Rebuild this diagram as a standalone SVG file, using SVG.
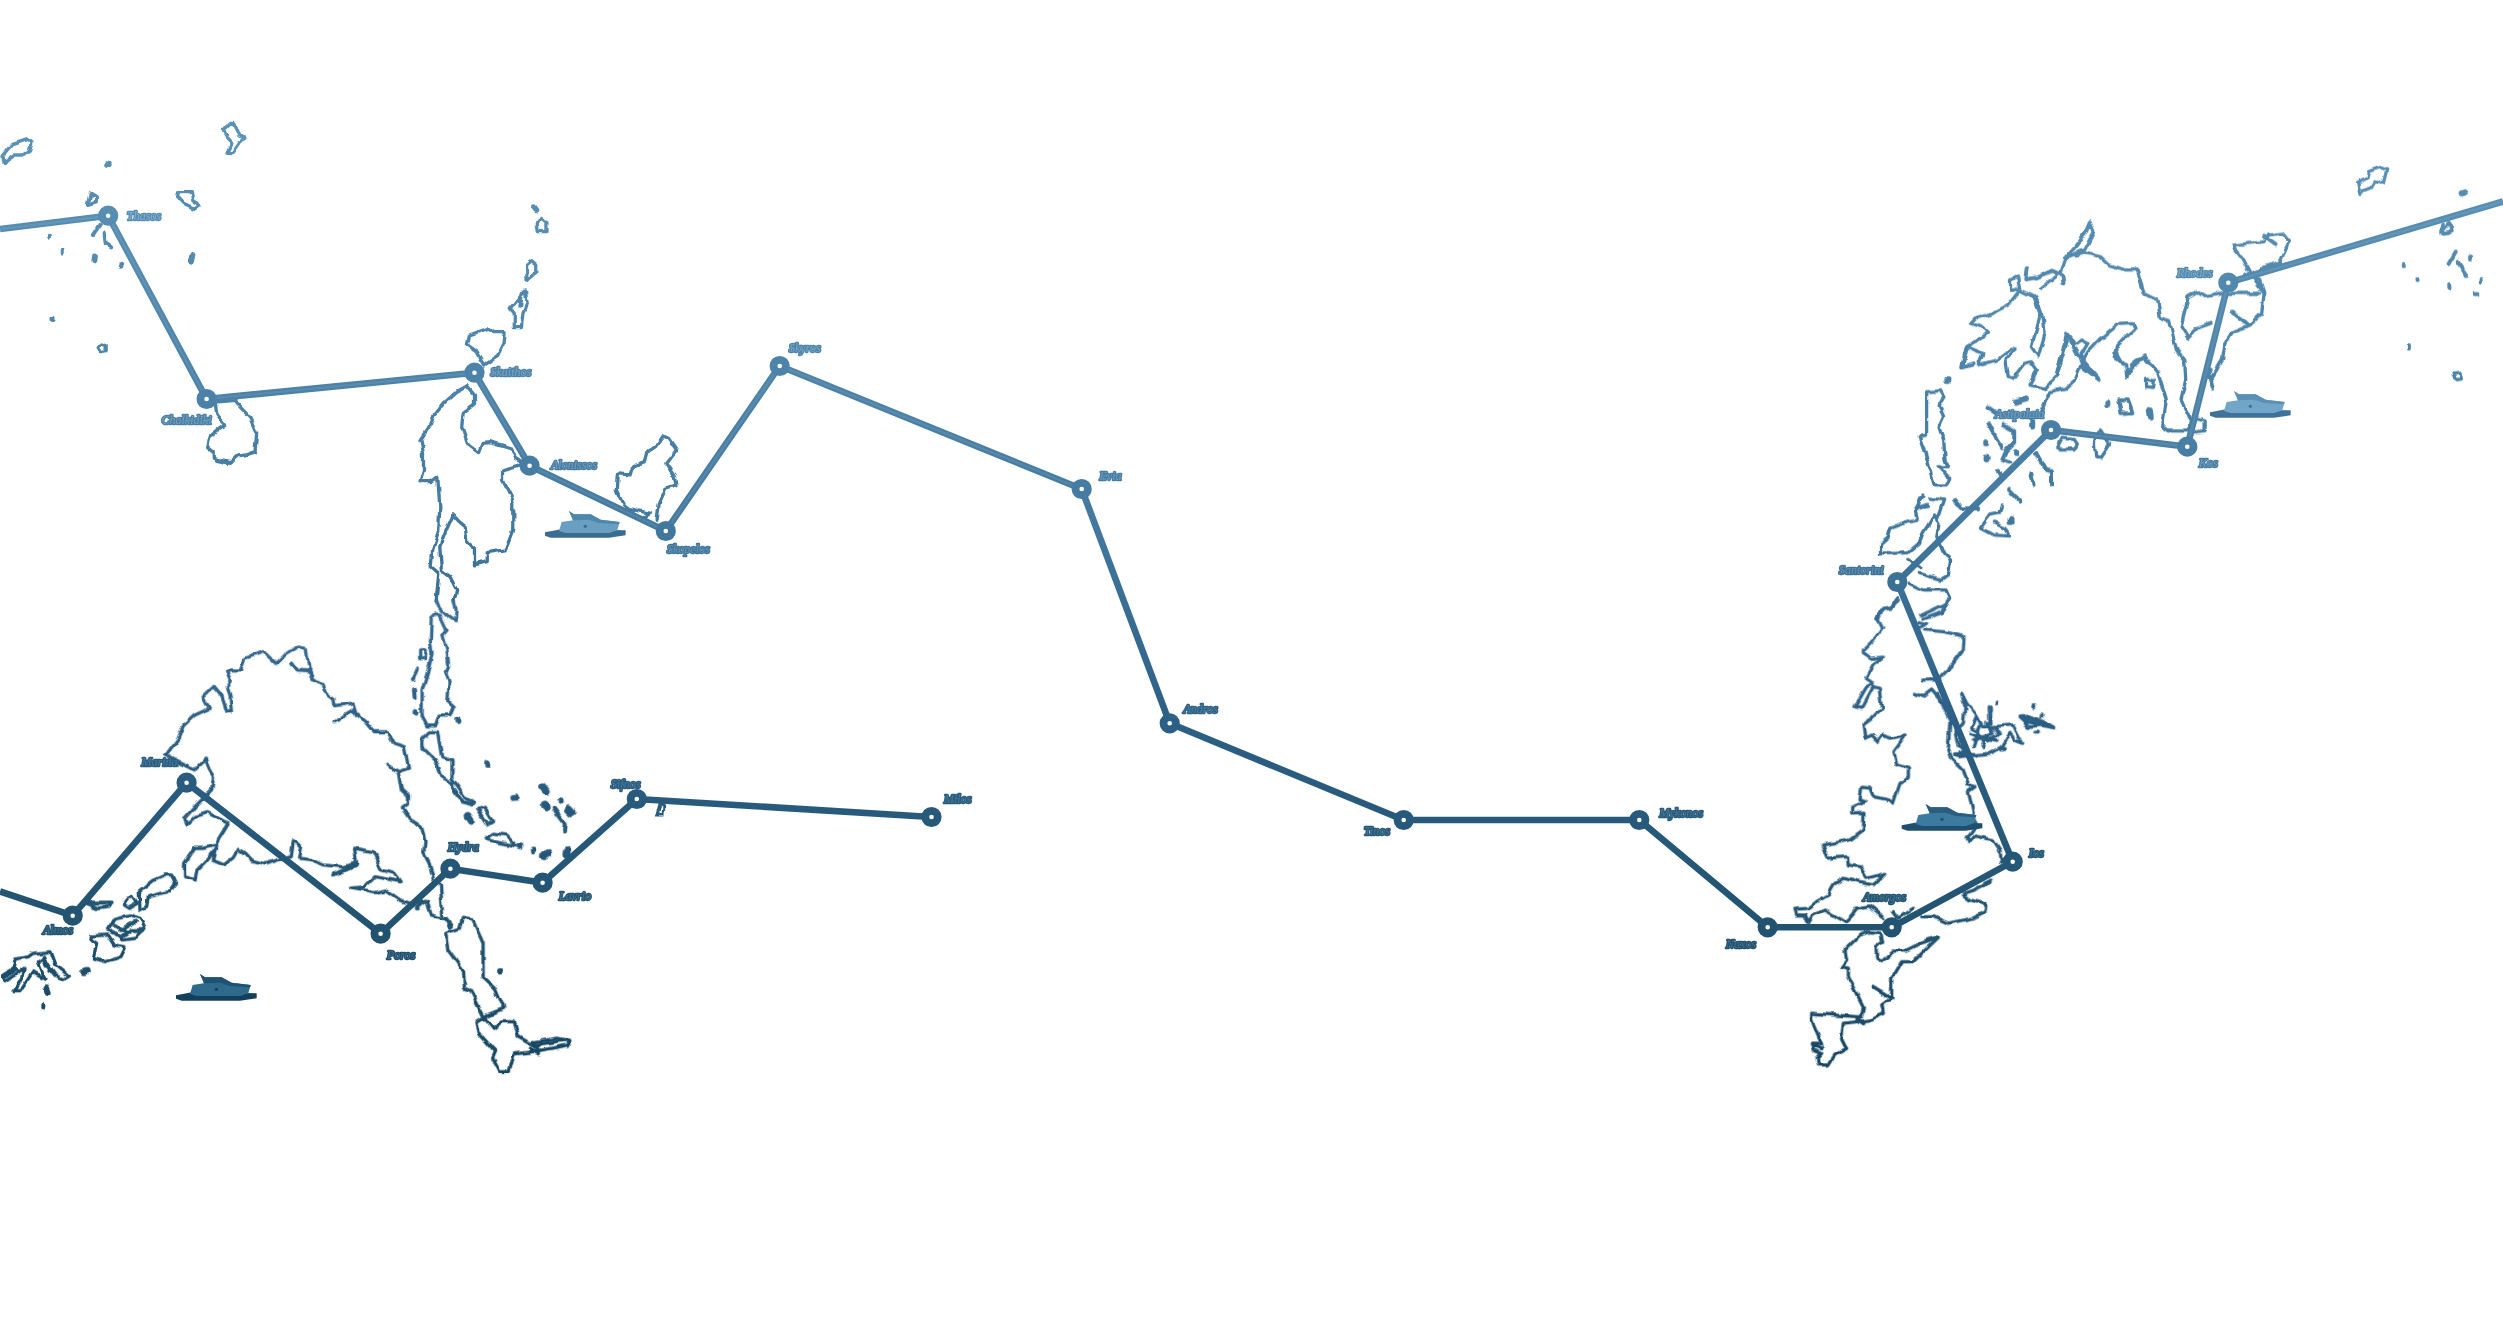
<svg xmlns="http://www.w3.org/2000/svg" xmlns:xlink="http://www.w3.org/1999/xlink" width="2503" height="1338" viewBox="0 0 2503 1338">
<style>
.coast path{fill:none;stroke-width:3.3;vector-effect:non-scaling-stroke;stroke-linejoin:round;stroke-linecap:round}
.coast path.t{stroke-width:4}
.coast path.d{stroke-width:6}
.coast path.b{stroke-width:8}
.coast path.s{stroke-width:4}
.route{fill:none;stroke:url(#g);stroke-width:6.6;stroke-linejoin:round}
.glow{fill:none;stroke:#fff;stroke-opacity:.08;stroke-width:2.4}
.node circle{fill:#fff;stroke:url(#g);stroke-width:7.8}
.node text{font:italic 12px "Liberation Serif",serif;fill:url(#gt);stroke:url(#g);stroke-width:2.6;paint-order:stroke;stroke-linejoin:round}
.bs{fill:var(--s)}.bh{fill:var(--h)}.bu{fill:var(--u)}
</style>
<defs>
<filter id="wob" filterUnits="userSpaceOnUse" x="0" y="0" width="2503" height="1338">
<feTurbulence type="fractalNoise" baseFrequency="0.08" numOctaves="2" seed="7"/>
<feDisplacementMap in="SourceGraphic" scale="5.5" xChannelSelector="R" yChannelSelector="G"/>
</filter>
<linearGradient id="g" gradientUnits="userSpaceOnUse" x1="0" x2="0" y1="150" y2="1060">
<stop offset="0" stop-color="#5a91b6"/><stop offset=".4" stop-color="#447aa0"/><stop offset=".63" stop-color="#2c5f85"/><stop offset=".85" stop-color="#225370"/><stop offset="1" stop-color="#174663"/>
</linearGradient>
<linearGradient id="gt" gradientUnits="userSpaceOnUse" x1="0" x2="0" y1="150" y2="1060">
<stop offset="0" stop-color="#8cb5d2"/><stop offset=".4" stop-color="#6b98b9"/><stop offset=".65" stop-color="#4b7898"/><stop offset="1" stop-color="#3c6a86"/>
</linearGradient>
<linearGradient id="gz1" href="#g" gradientUnits="userSpaceOnUse" x1="0" x2="0" y1="150" y2="2880"/>
<linearGradient id="gz2" href="#g" gradientUnits="userSpaceOnUse" x1="0" x2="0" y1="-1350" y2="1380"/>
<linearGradient id="gz4" href="#g" gradientUnits="userSpaceOnUse" x1="0" x2="0" y1="-150" y2="2580"/>
<linearGradient id="gz10" href="#g" gradientUnits="userSpaceOnUse" x1="0" x2="0" y1="-2100" y2="630"/>
<linearGradient id="gz12" href="#g" gradientUnits="userSpaceOnUse" x1="0" x2="0" y1="0" y2="2730"/>
<g id="boat">
<path class="bs" d="M528,436L580,426L770,430L770,445L720,452L545,452L528,446Z"/>
<path class="bh" d="M570,432L578,405L612,400L600,372L615,382L665,382L695,398L752,405L745,430L720,438L590,438Z"/>
<path class="bu" d="M600,372L615,382L665,382L695,398L752,405L750,412L690,408L660,398L612,400Z"/>
<circle class="bs" cx="649" cy="418" r="5"/>
</g>
</defs>

<g id="coasts" filter="url(#wob)">
<g id="coast-northwest" class="coast" stroke="url(#gz1)" transform="translate(0,100) scale(.5102,.3333)">
<path d="M8,192L6,165L25,130L55,115L63,125L58,150L45,165L30,165L15,180Z"/>
<path d="M450,70L438,90L445,108L455,125L445,157L455,158L470,125L482,115L468,108L458,70Z"/>
<path class="d" d="M213,190L210,198"/>
<path class="t" d="M178,275L172,315L188,308L188,285Z"/>
<path d="M350,275L375,275L378,300L385,305L390,315L380,325L360,310L348,290Z"/>
<path class="t" d="M198,372L182,408M205,400L207,430L218,442"/>
<path class="s" d="M96,404V413M123,449V458M103,653V663"/>
<path class="d" d="M186,470L185,478M238,494V497M379,462L376,482M1047,322L1051,330"/>
<path d="M200,732L190,742L198,758L210,755L210,738Z"/>
<path d="M1060,355L1053,372L1055,395L1072,395L1072,365Z"/>
<path d="M1042,482L1032,495L1033,540L1052,515L1052,495Z"/>
<path d="M1030,570L1018,590L1000,625L1008,640L1008,680L1022,680L1025,640L1033,610Z"/>
<path class="s" d="M1020,590L1018,620"/>
<path d="M950,692L920,708L916,735L935,755L950,795L975,770L988,730L990,695L968,695L960,686Z"/>
<path d="M915,858L895,875L870,910L852,945L845,975L825,1020L830,1060L830,1110L823,1145L845,1145L858,1132L862,1220L860,1290L848,1350L845,1400L860,1420L855,1500"/>
<path d="M888,1245L875,1290L862,1340L865,1410L882,1430L895,1470L890,1500"/>
<path d="M888,1245L900,1265L912,1280L915,1325L930,1345L930,1395L955,1385L955,1358L990,1350L1005,1290L1005,1200L985,1140L985,1110L1020,1095"/>
<path d="M915,858L930,885L930,915L908,940L905,980L918,1035L938,1058L945,1030L960,1028L1005,1048L1010,1075L1025,1090"/>
<path d="M1300,1008L1285,1040L1270,1055L1265,1085L1240,1100L1235,1125L1210,1122L1208,1170L1222,1215L1230,1225L1275,1240L1262,1252"/>
<path d="M1300,1008L1310,1015L1326,1050L1305,1090L1322,1130L1325,1155L1305,1165L1292,1210L1288,1258"/>
<path d="M422,910L425,945L440,975L410,1010L405,1040L420,1060L420,1075L450,1090L465,1068L480,1065L500,1055L503,1000L490,955L462,910"/>
<path class="t" d="M422,905L462,900M425,1080L448,1088"/>
</g>

<g id="coast-southwest" class="coast" stroke="url(#gz2)" transform="translate(0,600) scale(.41467,.3333)">
<path d="M1052,0L1060,25L1080,50L1098,65L1100,30L1095,0"/>
<path d="M1050,42L1040,55L1038,120L1042,160L1030,220L1018,270L1018,350L1030,378L1050,378L1060,345L1085,345L1093,320L1080,305L1083,245L1075,220L1082,200L1078,150L1068,105L1078,90L1060,42Z"/>
<path d="M1012,150L1028,148L1025,176L1012,176Z"/>
<path class="t" d="M1008,208L998,235M998,268L1000,292"/>
<path class="d" d="M1002,336V338M1103,360V363M1175,490V492M1238,594L1244,593M1352,601V603M1206,1113L1206,1115"/>
<path d="M1035,395L1015,420L1015,440L1055,490L1065,530L1090,550L1095,575L1105,595L1135,615L1142,605L1120,590L1105,560L1090,535L1090,480L1065,470L1055,395Z"/>
<path class="t" d="M1095,570L1115,605L1140,612"/>
<path class="b" d="M1308,560L1318,575M1314,614L1316,622M1372,628L1378,636M1128,648L1135,662M1312,768L1324,760M1367,754L1366,764"/>
<path class="d" d="M1255,739V741M1285,749V751"/>
<path class="t" d="M1335,625L1362,670L1360,695"/>
<path d="M1152,628L1168,622L1188,662L1175,672Z"/>
<path d="M1172,715L1190,700L1220,705L1245,738L1205,728L1175,720Z"/>
<path d="M400,465L430,415L442,378L470,345L505,325L490,290L515,260L535,290L547,335L558,335L555,290L548,260L558,240L548,210L580,210L590,175L615,165L635,155L665,190L685,165L720,138L738,142L745,205L755,235L780,255L785,275L805,295L808,320L852,312L860,345L880,365L900,395L935,395L950,430L975,440L985,505L960,515L935,493"/>
<path class="t" d="M702,190L715,212L750,215L755,235"/>
<path d="M808,365L850,330L865,345"/>
<path d="M960,515L968,570L985,590L985,610L970,625L990,660L1015,680L1025,720L1022,760L1035,790L1045,835"/>
<path d="M400,465L435,490L470,510L495,480L505,510L515,530L510,570L470,620L445,655L450,675L470,650L500,638L550,670L530,710L522,735L490,745L470,745L445,790L445,830L470,840L475,810L495,785L520,745L512,780L540,795L565,770L575,748L590,760L605,780L640,792L670,780L700,770L705,725L725,740L720,775L755,780L780,795L825,800L860,790L805,825"/>
<path d="M860,790L855,745L900,755L920,810L950,820L965,845L905,830L880,860L845,865L905,878L930,870L965,900L990,910L1030,905L1040,945L1075,958L1085,985"/>
<path class="t" d="M808,822L858,795M1005,925L1025,905M1075,955L1090,978"/>
<path d="M1062,850L1068,955"/>
<path d="M1075,1000L1080,1050L1118,1115L1120,1165L1135,1172L1165,1245L1190,1285L1210,1265L1240,1265L1250,1310L1285,1335L1370,1320L1372,1335L1285,1355L1240,1362L1228,1415L1205,1415L1188,1375L1195,1355L1155,1300L1150,1265L1175,1245L1215,1225L1195,1165L1165,1130L1165,1030L1140,960L1115,955L1108,985Z"/>
<path class="t" d="M1280,1345L1300,1360M1285,1325L1300,1350"/>
<path d="M1290,1325L1345,1315L1372,1322"/>
</g>

<g id="coast-almos" class="coast" stroke="url(#gz10)" transform="translate(0,850) scale(.3333)">
<path class="t" d="M250,158L335,158L328,170L292,175Z"/>
<path d="M498,75L515,75L527,100L510,125L480,130L445,140L440,170L420,180L418,125L460,92Z"/>
<path d="M400,140L412,160L385,175L370,165L385,145Z"/>
<path d="M325,240L345,205L390,195L420,205L435,235L405,265L370,270L345,250Z"/>
<path class="t" d="M360,240L405,215M365,262L395,240L430,240M345,225L380,250"/>
<path d="M275,258L325,255L345,285L375,290L360,320L320,335L280,325L290,280L272,268Z"/>
<path d="M8,375L40,355L45,328L85,320L100,310L150,305L165,345L205,378L190,388L165,375L140,340L130,325L115,335L135,385L100,365L60,425L42,425L65,385L72,355L45,375L15,392Z"/>
<path class="t" d="M15,378L45,362M130,320L140,345L165,378"/>
<path class="d" d="M253,366L260,363M137,412L143,426"/>
<path class="s" d="M130,462V473"/>
</g>

<g id="coast-northeast" class="coast" stroke="url(#gz4)" transform="translate(1780,200) scale(.46097,.3333)">
<path class="t" d="M672,68L662,100L640,140L620,172L660,150L680,95Z"/>
<path d="M620,175L610,215L565,265"/>
<path class="t" d="M535,205L532,238L560,232L590,212L612,225L615,250"/>
<path d="M500,240L515,228L520,265L500,272Z"/>
<path d="M640,165L665,160L695,170L715,195L750,210L775,210L790,280L820,300L825,355L845,365L860,450L878,480L880,540L870,600L890,660L888,690L840,690L830,680L838,600L820,520L795,480L790,465L762,495L752,530L750,495L725,470L730,440L750,410L770,385L765,368L735,370L695,415L665,460L640,540L620,565L585,575L565,640"/>
<path class="t" d="M728,455L745,495M790,470L755,510"/>
<path d="M555,290L570,345L575,400L560,470L545,440L555,395L565,345L550,290L520,270L495,315L460,340L425,355L415,370L435,380L450,400L425,425L405,440L440,460L430,495L470,480L500,448L510,450L490,480L495,530L505,535L530,490L545,485L558,510L540,555L575,565L600,530L622,400L650,475L655,500L692,540L660,500L650,470L668,430L655,420L640,430L625,405"/>
<path class="t" d="M405,440L395,500L420,490M600,525L625,410M650,470L690,535"/>
<path d="M318,575L350,572L358,590L345,620L355,650L345,680L355,720L358,780L365,800L345,800L368,835L360,855L335,855L315,760L302,710L318,705L318,600Z"/>
<path class="d" d="M363,537V543M445,727V730M448,770V778M512,756V759M710,607V613M510,605L535,595M547,665V677"/>
<path d="M735,600L755,600L765,638L740,640Z"/>
<path class="d" d="M800,630L802,650"/>
<path d="M795,535L812,540L810,562L795,560Z"/>
<path d="M905,655L920,660L920,695L895,700"/>
<path d="M685,700L695,690L715,730L695,772L685,770L682,730Z"/>
<path d="M610,712L635,715L645,735L640,750L610,750L600,740Z"/>
<path class="t" d="M450,620L470,640M452,670L470,720L482,745M485,672L508,690L508,730L490,755L482,780L500,788"/>
<path class="t" d="M555,760L575,810L590,815L590,855M475,810L480,830M545,820L550,855M495,870L520,905M380,900L395,925L430,925"/>
<path d="M480,915L475,940L455,945L435,985L462,1005L498,1008L490,985L465,970"/>
<path class="d" d="M500,957V966"/>
<path d="M310,888L295,925L300,960L270,970L240,985L235,1010L218,1030L218,1062L280,1058L300,1035L310,1000L335,945L345,970L340,1010L355,1060L370,1080L365,1125L350,1138L300,1120"/>
<path d="M325,895L355,900L340,960"/>
<path class="t" d="M305,895L300,925L320,915M280,1080L305,1100"/>
<path d="M280,1150L310,1170L360,1170L368,1195L350,1235L310,1255"/>
<path d="M255,1190L240,1225L218,1230L210,1260"/>
<path d="M985,135L1050,125L1060,105L1090,100L1105,125L1085,185L1020,220L1005,180L988,150Z"/>
<path class="t" d="M1050,110L1075,135M1040,205L1085,190"/>
<path d="M1010,220L1040,240L1050,280L1045,340L1020,375L985,395L965,430L960,480L935,535L940,570L930,530L935,505"/>
<path class="t" d="M982,338L1015,372M1030,240L1048,275"/>
<path d="M905,275L885,290L875,350L870,380L885,415L905,385L935,370"/>
<path d="M905,275L920,290L965,280L1040,280"/>
<path d="M1435,95L1450,68L1458,95L1440,102Z"/>
<path class="t" d="M1466,155L1450,192M1470,185L1490,228"/>
<path class="s" d="M1353,192V198M1497,170V176M1383,237V243M1522,237V245M1452,252V266M1507,282H1515M1362,438V446"/>
<path d="M1460,522L1475,520L1478,540L1465,542Z"/>
</g>

<g id="coast-southeast" class="coast" stroke="url(#gz2)" transform="translate(1700,600) scale(.3333)">
<path d="M595,0L580,20L548,25L535,60L548,85L520,120L490,150L490,158L515,175L550,172L520,195L498,235L520,250L500,260L465,320L485,325L520,260L538,265L545,325L515,355L492,372L498,415L515,405L535,425L548,405L570,415L618,405L582,455L590,495L625,505L625,530L600,550L580,610L570,600L520,590L510,565L485,562L480,600L495,605L455,622L455,642L492,640L490,690L450,720L368,735L385,775L442,770L445,795L480,800L500,835L555,820L520,855L470,845L430,835L405,850L385,885L350,905L325,925L285,928L290,945L315,945L325,970L340,945L375,930L435,965L455,945L470,925L510,918L550,950"/>
<path d="M640,280L668,290L695,270L720,300L750,360L745,445L755,475L790,510L805,555L825,560L805,575L820,640L825,680L800,715L810,725L825,708L880,720L900,750L905,790"/>
<path d="M668,240L720,240M665,45L740,10L742,0M655,65L680,70L650,85M670,90L735,95L792,110L790,150L760,190L720,230"/>
<path class="t" d="M715,280L760,370"/>
<path d="M785,280L800,310L825,340L850,380L880,380L940,375L968,430L945,420L930,400L905,440L870,460L780,470L765,465L800,450"/>
<path d="M785,280L795,320L790,370L765,395L775,440L800,450M830,350L815,385L835,395L850,440M810,400L860,420L895,405M868,320L870,370M820,420L880,400L860,370M840,380L820,440"/>
<path class="t" d="M765,462L830,465M835,410L890,420M880,380L900,400"/>
<path class="s" d="M890,307V310M1003,318V323M1025,346V350M1006,398H1014M903,449L912,447M870,323V333"/>
<path class="t" d="M958,352L990,350L1030,365L1060,382L1020,375L985,378ZM975,360L1030,372"/>
<path class="t" d="M800,712L812,722M850,855L870,845"/>
<path d="M580,935L595,955L640,925"/>
<path d="M790,885L810,900L858,912L855,935L815,955L745,970L700,950L665,950"/>
<path d="M790,880L820,870L870,845"/>
<path d="M510,995L480,1005L435,1050L440,1080L425,1100L445,1105L445,1130L490,1220L485,1250L470,1250L335,1240L335,1260L365,1330L335,1330L340,1350L365,1360L352,1375L355,1395L385,1395L405,1365L440,1345L425,1315L430,1270L470,1265L510,1260L550,1240L545,1215L575,1195L575,1135L605,1085L640,1085L715,1012L680,1020L620,1050L585,1050L545,1085L530,1075L528,1040L545,1030L540,1000Z"/>
<path class="t" d="M518,1160L575,1195M335,1332L365,1345M470,1255L490,1270M660,1030L712,1012"/>
</g>

<g id="coast-top-right" class="coast" stroke="url(#gz12)" transform="translate(2340,150) scale(.3333)">
<path d="M60,130L53,100L80,85L85,65L120,52L140,60L130,100L105,95L95,112L70,122Z"/>
<path class="d" d="M365,133L375,127"/>
<path d="M310,220L302,250L325,250L338,232L328,218"/>
</g>
<path d="M660,804L657,815L663,815L664,805Z" fill="none" stroke="#2a5b7f" stroke-width="3"/>
</g>

<g id="connectors">
<path class="route" d="M0,229L108.2,215.7L206.6,399L474.5,372.7L529.6,465.7L665.8,531L779.7,366L1081.7,489L1169.7,723.3L1403.7,820L1639.3,820L1767.7,927.3L1891.7,927.3L2012.7,861.7L1897.3,582L2051,430L2187.3,446.7L2228.3,282.7L2503,201.5"/>
<path class="route" d="M0,891.5L72.7,915.7L186.6,782.7L380.6,933.7L450.4,868.7L542.6,882.7L636.8,799L931.5,817"/>
<path class="glow" d="M0,229L108.2,215.7L206.6,399L474.5,372.7L529.6,465.7L665.8,531L779.7,366L1081.7,489"/>
<path class="glow" d="M2051,430L2187.3,446.7L2228.3,282.7L2503,201.5"/>
</g>

<g id="boats">
<use id="boat-1" href="#boat" transform="translate(0,850) scale(.3333)" style="--s:#143f5c;--h:#2d6a8c;--u:#1f5272"/>
<use id="boat-2" href="#boat" transform="translate(369,387) scale(.3333)" style="--s:#3a6c92;--h:#6a9fc2;--u:#4f86ab"/>
<use id="boat-3" href="#boat" transform="translate(2034,267) scale(.3333)" style="--s:#3f7299;--h:#72a6c8;--u:#5a90b5"/>
<use id="boat-4" href="#boat" transform="translate(1725.7,680) scale(.3333)" style="--s:#1f4f70;--h:#3d7a9f;--u:#2a5d80"/>
</g>

<g id="node-thasos" class="node"><circle cx="108.2" cy="215.7" r="6.2"/><text x="127" y="219.5">Thasos</text></g>
<g id="node-chalkidiki" class="node"><circle cx="206.6" cy="399" r="6.2"/><text x="161.5" y="424">Chalkidiki</text></g>
<g id="node-skaithos" class="node"><circle cx="474.5" cy="372.7" r="6.2"/><text x="490.5" y="375.5">Skaithos</text></g>
<g id="node-alonissos" class="node"><circle cx="529.6" cy="465.7" r="6.2"/><text x="551" y="469">Alonissos</text></g>
<g id="node-skopelos" class="node"><circle cx="665.8" cy="531" r="6.2"/><text x="667" y="552.5">Skopelos</text></g>
<g id="node-skyros" class="node"><circle cx="779.7" cy="366" r="6.2"/><text x="789" y="352">Skyros</text></g>
<g id="node-evia" class="node"><circle cx="1081.7" cy="489" r="6.2"/><text x="1099.5" y="479.5">Evia</text></g>
<g id="node-andros" class="node"><circle cx="1169.7" cy="723.3" r="6.2"/><text x="1183.5" y="712.5">Andros</text></g>
<g id="node-tinos" class="node"><circle cx="1403.7" cy="820" r="6.2"/><text x="1364" y="835">Tinos</text></g>
<g id="node-mykonos" class="node"><circle cx="1639.3" cy="820" r="6.2"/><text x="1659.5" y="816.5">Mykonos</text></g>
<g id="node-naxos" class="node"><circle cx="1767.7" cy="927.3" r="6.2"/><text x="1726" y="947.5">Naxos</text></g>
<g id="node-amorgos" class="node"><circle cx="1891.7" cy="927.3" r="6.2"/><text x="1863" y="901">Amorgos</text></g>
<g id="node-ios" class="node"><circle cx="2012.7" cy="861.7" r="6.2"/><text x="2029" y="856.5">Ios</text></g>
<g id="node-santorini" class="node"><circle cx="1897.3" cy="582" r="6.2"/><text x="1839" y="573.5">Santorini</text></g>
<g id="node-astipalaia" class="node"><circle cx="2051" cy="430" r="6.2"/><text x="1995" y="417.5">Astipalaia</text></g>
<g id="node-kos" class="node"><circle cx="2187.3" cy="446.7" r="6.2"/><text x="2199" y="466.5">Kos</text></g>
<g id="node-rhodes" class="node"><circle cx="2228.3" cy="282.7" r="6.2"/><text x="2177" y="276.5">Rhodes</text></g>
<g id="node-almos" class="node"><circle cx="72.7" cy="915.7" r="6.2"/><text x="43" y="933.5">Almos</text></g>
<g id="node-marina" class="node"><circle cx="186.6" cy="782.7" r="6.2"/><text x="141.5" y="766">Marina</text></g>
<g id="node-poros" class="node"><circle cx="380.6" cy="933.7" r="6.2"/><text x="387" y="958.5">Poros</text></g>
<g id="node-hydra" class="node"><circle cx="450.4" cy="868.7" r="6.2"/><text x="448" y="851">Hydra</text></g>
<g id="node-lavrio" class="node"><circle cx="542.6" cy="882.7" r="6.2"/><text x="559" y="899.5">Lavrio</text></g>
<g id="node-sifnos" class="node"><circle cx="636.8" cy="799" r="6.2"/><text x="611" y="787.5">Sifnos</text></g>
<g id="node-milos" class="node"><circle cx="931.5" cy="817" r="6.2"/><text x="944" y="802.5">Milos</text></g>
</svg>
